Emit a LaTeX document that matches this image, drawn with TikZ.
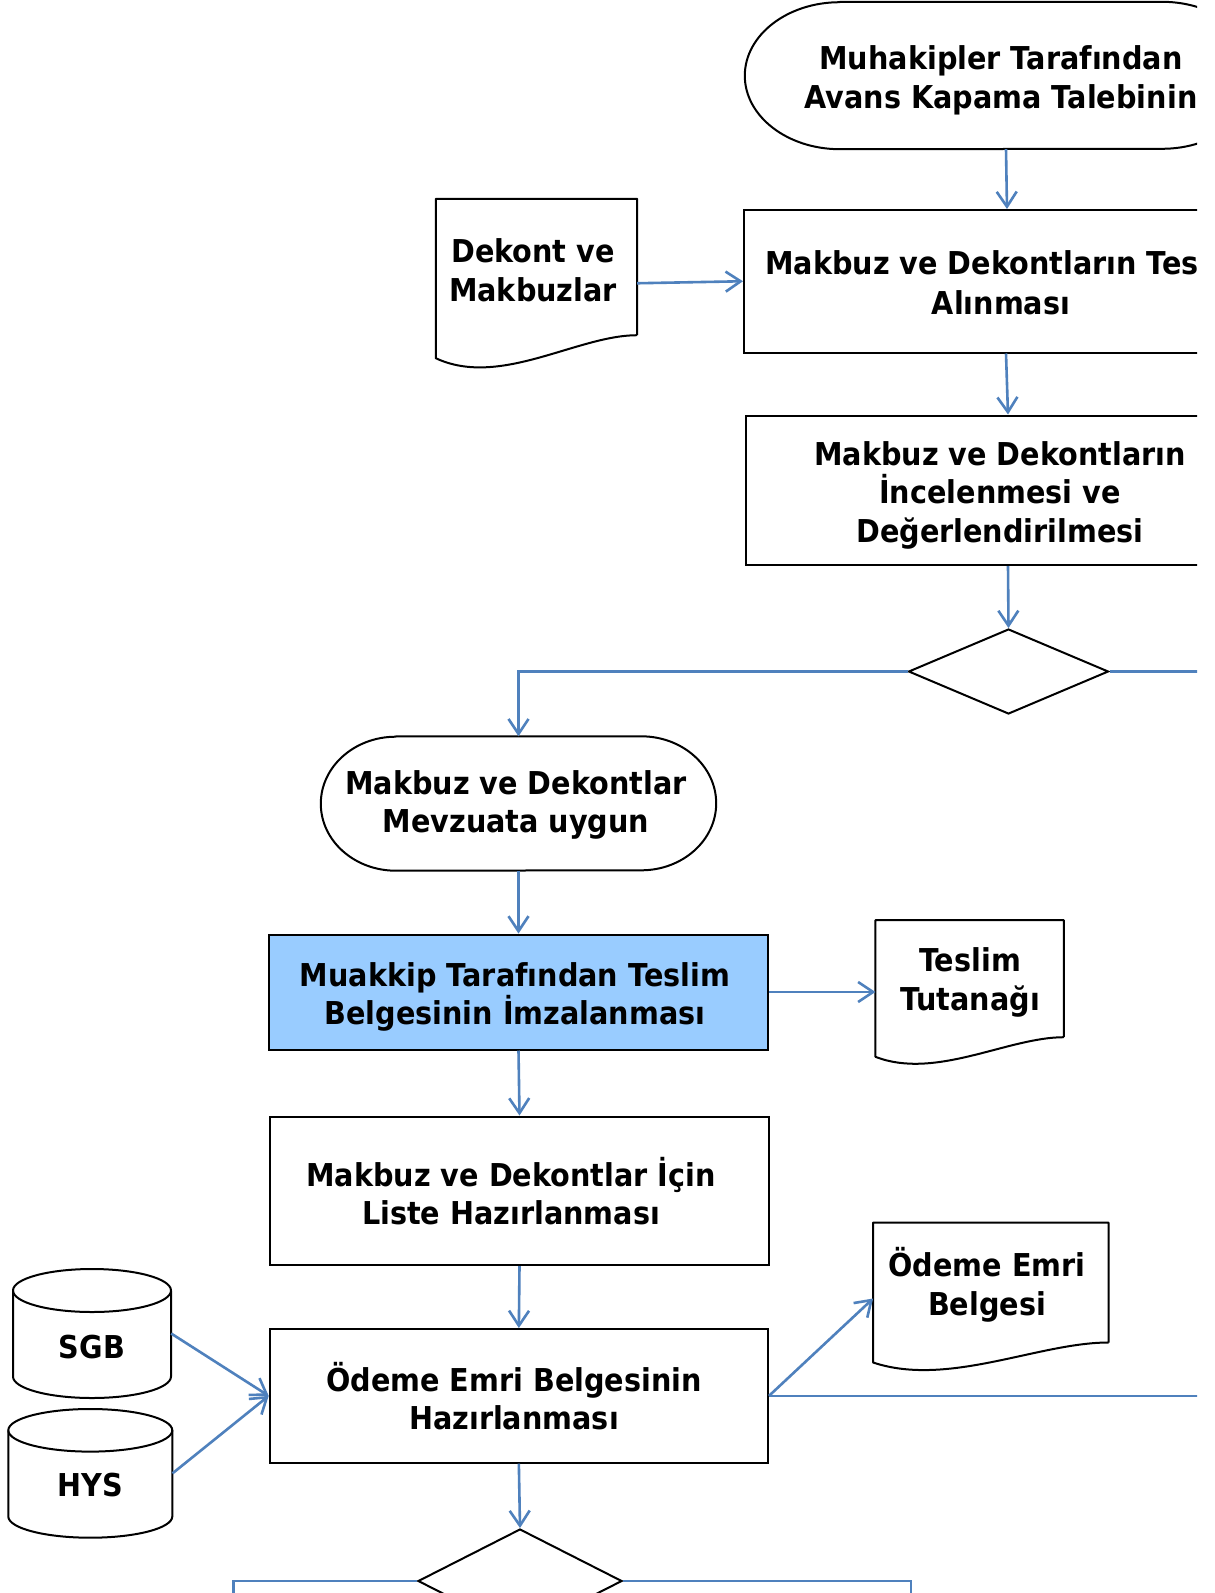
\documentclass[tikz,border=0pt]{standalone}
\usepackage{fontspec}
\newfontfamily\tfont{DejaVu Sans}[FakeStretch=0.91]
\usetikzlibrary{arrows.meta,shapes.geometric,calc}
\definecolor{conblue}{HTML}{4F81BD}
\definecolor{procfill}{HTML}{99CCFF}
\tikzset{
  txt/.style={font={\tfont\bfseries\fontsize{31.5pt}{38.6pt}\selectfont}, align=center, inner sep=0pt},
  plain/.style={rectangle, inner sep=0pt},
  procbox/.style={rectangle, inner sep=0pt, draw=black, line width=2pt},
  outline/.style={draw=black, line width=2pt, line join=round},
  decision/.style={diamond, draw=black, line width=2pt, inner sep=0pt, fill=white},
  conn/.style={draw=conblue, line width=2.6pt, -{Straight Barb[length=15pt,width=20pt,line width=2.6pt]}},
  link/.style={draw=conblue, line width=2.6pt},
}
\begin{document}
\begin{tikzpicture}[x=1pt,y=-1pt]
\useasboundingbox[fill=white] (0,0) rectangle (1215,1593);
\begin{scope}
\clip (0,0) rectangle (1197,1593);

% top terminator
\node[plain, minimum width=512pt, minimum height=147pt] (t1) at (1001,75.5) {};
\draw[outline] ($(t1.north west)+(95,0)$) -- ($(t1.north east)+(-95,0)$)
  arc[start angle=90,end angle=-90,x radius=95pt,y radius=73.5pt]
  -- ($(t1.south west)+(95,0)$)
  arc[start angle=270,end angle=90,x radius=95pt,y radius=73.5pt] -- cycle;
\node[txt] (t1x) at (1001,80.5) {Muhakipler Tarafından\\Avans Kapama Talebinin};

% box 2
\node[procbox, minimum width=514pt, minimum height=142.5pt] (b2) at (1001,281.25) {};
\node[txt, anchor=west] (b2a) at (765,263) {Makbuz ve Dekontların Tes};
\node[txt] (b2b) at (1001,303) {Alınması};

% document Dekont
\node[plain, minimum width=201pt, minimum height=136pt] (dek) at (536.5,267) {};
\draw[outline] (dek.south east) -- (dek.north east) -- (dek.north west) -- ($(dek.south west)+(0,23)$)
  .. controls ($(dek.south west)+(64,53)$) and ($(dek.south east)+(-60,0)$) .. (dek.south east);
\node[txt] (dekx) at (533,270) {Dekont ve\\Makbuzlar};

% box 3
\node[procbox, minimum width=510pt, minimum height=149.5pt] (b3) at (1001,490.25) {};
\node[txt] (b3x) at (1000,495.3) {Makbuz ve Dekontların\\İncelenmesi ve\\Değerlendirilmesi};

% diamond 1
\node[decision, minimum width=200pt, minimum height=85pt] (d1) at (1008.5,671.5) {};
\coordinate (e1) at (1215,671.5);

% terminator 2
\node[plain, minimum width=395pt, minimum height=134pt] (t2) at (518.5,803.5) {};
\draw[outline] ($(t2.north west)+(75,0)$) -- ($(t2.north east)+(-75,0)$)
  arc[start angle=90,end angle=-90,x radius=75pt,y radius=67pt]
  -- ($(t2.south west)+(75,0)$)
  arc[start angle=270,end angle=90,x radius=75pt,y radius=67pt] -- cycle;
\node[txt] (t2x) at (516,805) {Makbuz ve Dekontlar\\Mevzuata uygun};

% blue process
\node[procbox, fill=procfill, minimum width=499pt, minimum height=115pt] (pb) at (518.5,992) {};
\node[txt] (pbx) at (515,997) {Muakkip Tarafından Teslim\\Belgesinin İmzalanması};

% document Teslim
\node[plain, minimum width=188pt, minimum height=116.6pt] (tes) at (969.65,978.7) {};
\draw[outline] (tes.south east) -- (tes.north east) -- (tes.north west) -- ($(tes.south west)+(0,19.6)$)
  .. controls ($(tes.south west)+(60,43)$) and ($(tes.south east)+(-56,0)$) .. (tes.south east);
\node[txt] (tesx) at (970,982.7) {Teslim\\Tutanağı};

% box 5
\node[procbox, minimum width=499pt, minimum height=148.5pt] (b5) at (519.5,1190.75) {};
\node[txt] (b5x) at (511,1191) {Makbuz ve Dekontlar İçin\\Liste Hazırlanması};

% box 6
\node[procbox, minimum width=498.3pt, minimum height=133.7pt] (b6) at (518.85,1395.85) {};
\node[txt] (b6x) at (514,1396) {Ödeme Emri Belgesinin\\Hazırlanması};

% document Odeme
\node[plain, minimum width=235pt, minimum height=119.6pt] (ode) at (990.8,1282.5) {};
\draw[outline] (ode.south east) -- (ode.north east) -- (ode.north west) -- ($(ode.south west)+(0,20)$)
  .. controls ($(ode.south west)+(75,45)$) and ($(ode.south east)+(-70,0)$) .. (ode.south east);
\node[txt] (odex) at (987,1284.5) {Ödeme Emri\\Belgesi};

% cylinders
\node[plain, minimum width=158pt, minimum height=129pt] (sgb) at (92,1333.5) {};
\draw[outline] (92,1290.5) ellipse[x radius=79pt,y radius=21.5pt];
\draw[outline] (13,1290.5) -- (13,1376.5) arc[start angle=180,end angle=360,x radius=79pt,y radius=21.5pt] -- (171,1290.5);
\node[txt] (sgbx) at (92,1346.7) {SGB};
\node[plain, minimum width=164pt, minimum height=128.7pt] (hys) at (90.3,1473.35) {};
\draw[outline] (90.3,1430.3) ellipse[x radius=82pt,y radius=21.3pt];
\draw[outline] (8.3,1430.3) -- (8.3,1516.4) arc[start angle=180,end angle=360,x radius=82pt,y radius=21.3pt] -- (172.3,1430.3);
\node[txt] (hysx) at (90.3,1485) {HYS};

% diamond 2
\node[decision, minimum width=204pt, minimum height=104pt] (d2) at (520,1581) {};
\coordinate (e2) at (1215,1395.85);
\coordinate (e3) at (233.7,1600);
\coordinate (e4) at (911,1600);

% connectors
\draw[conn] ($(t1.south)+(5,0)$) -- ($(b2.north)+(6,0)$);
\draw[conn] ($(dek.east |- b2.west)+(0,2)$) -- (b2.west);
\draw[conn] ($(b2.south)+(5,0)$) -- ($(b3.north)+(7,0)$);
\draw[conn] ($(b3.south)+(7,0)$) -- (d1.north);
\draw[link] (d1.east) -- (e1);
\draw[conn] (d1.west) -| (t2.north);
\draw[conn] (t2.south) -- (pb.north);
\draw[conn] (pb.east) -- (pb.east -| tes.west);
\draw[conn] (pb.south) -- (b5.north);
\draw[conn] (b5.south) -- (b6.north);
\draw[conn] (sgb.east) -- (b6.west);
\draw[conn] (hys.east) -- (b6.west);
\draw[conn] (b6.east) -- ($(ode.west)+(0,16)$);
\draw[link] (b6.east) -- (e2);
\draw[conn] (b6.south) -- (d2.north);
\draw[link] (d2.west) -| (e3);
\draw[link] (d2.east) -| (e4);
\end{scope}
\end{tikzpicture}
\end{document}
